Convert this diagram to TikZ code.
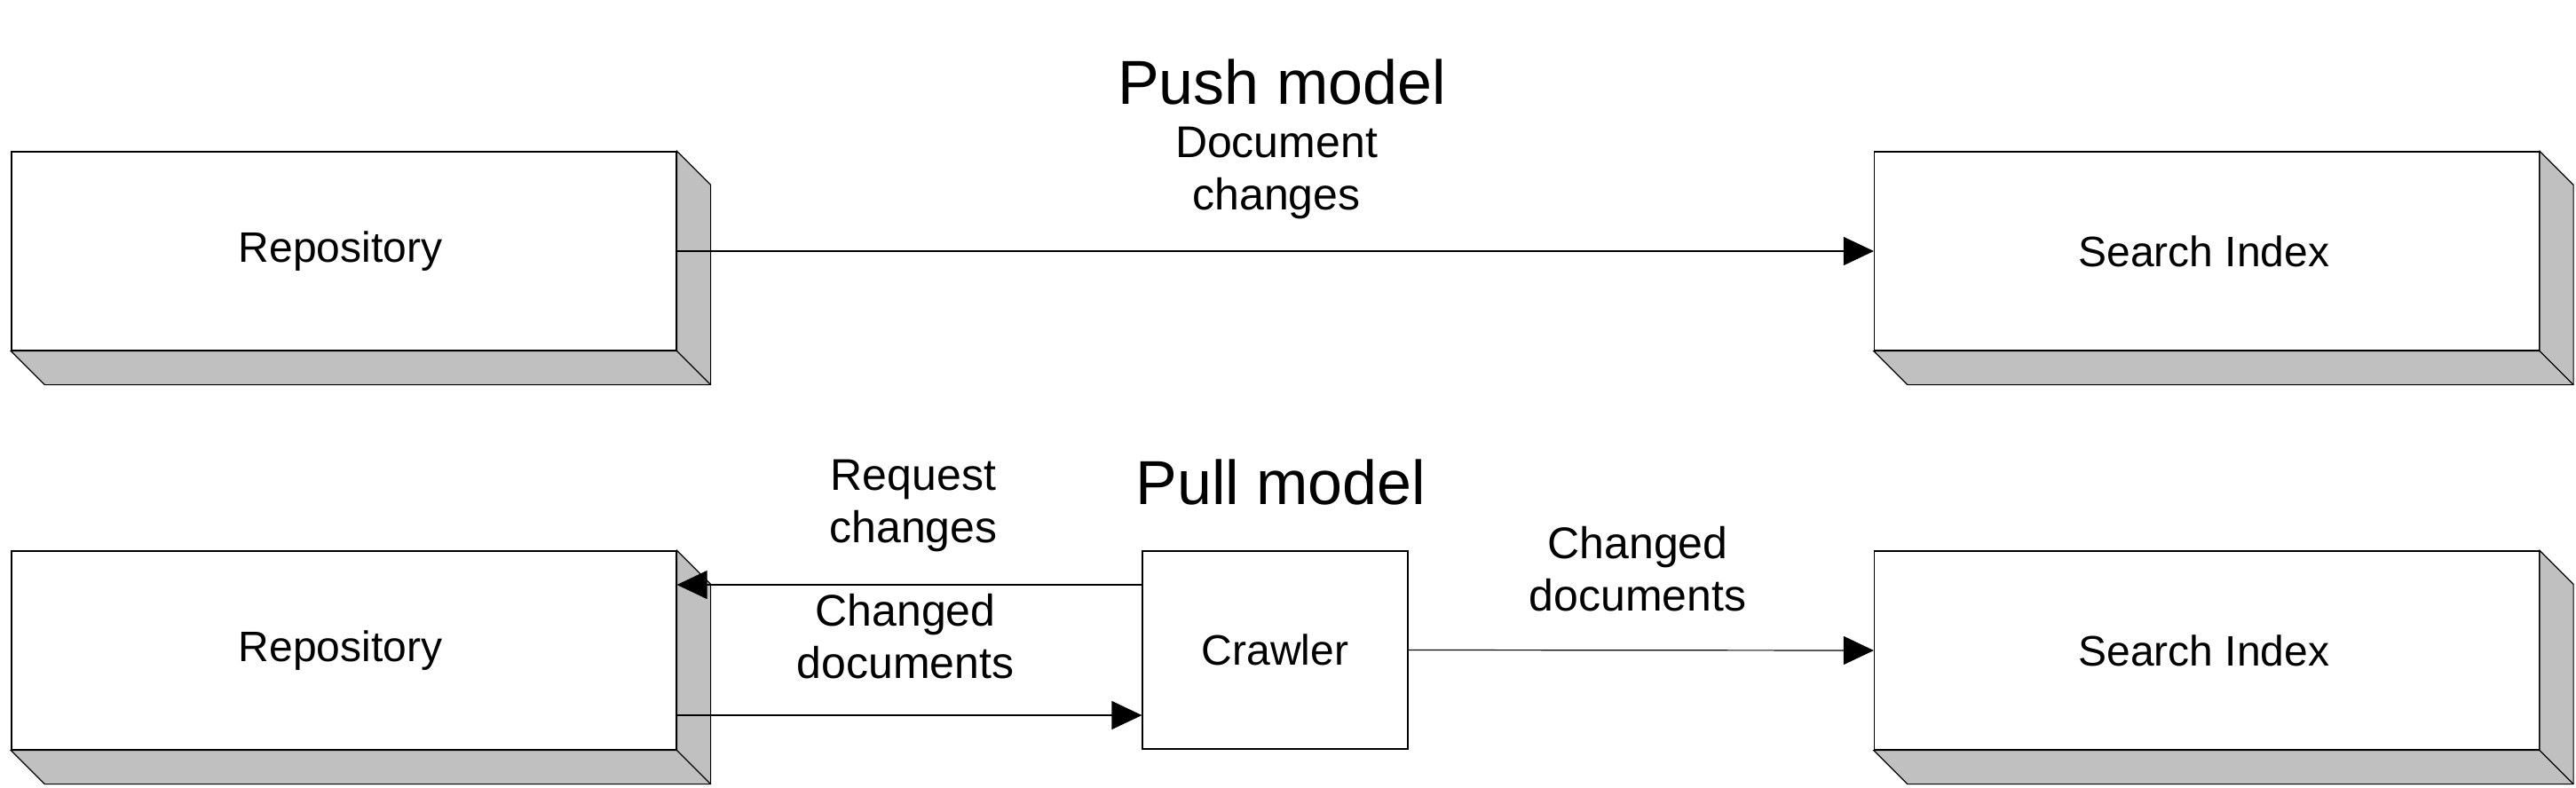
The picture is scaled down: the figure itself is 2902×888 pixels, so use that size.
\documentclass[tikz,border=0pt]{standalone}
\usepackage{fontspec}
\setmainfont{Liberation Sans}
\usetikzlibrary{arrows.meta,calc}
\definecolor{sidegray}{HTML}{C0C0C0}
\tikzset{
  face/.style={draw=black, fill=white, line width=1.2pt, inner sep=0pt, minimum height=224pt, font=\fontsize{48}{55}\selectfont},
  bigbox/.style={face, minimum width=749pt},
  lbl/.style={align=center, inner sep=0pt, font=\fontsize{50}{59}\selectfont},
  title/.style={inner sep=0pt, font=\fontsize{70}{78}\selectfont},
  arr/.style={line width=1.2pt, -{Triangle[length=34pt,width=32pt]}},
  extr/.style={fill=sidegray, draw=black, line width=1.2pt, line join=miter}
}
\newcommand{\extrude}[1]{%
  \path[extr] (#1.north east) -- ($(#1.north east)+(38,38)$) -- ($(#1.south east)+(38,38)$)
    -- ($(#1.south west)+(38,38)$) -- (#1.south west) -- (#1.south east) -- cycle;
  \draw[line width=1.2pt] (#1.south east) -- ($(#1.south east)+(38,38)$);}
\begin{document}
\begin{tikzpicture}[x=1pt,y=-1pt]
\useasboundingbox (0,0) rectangle (2902,888);
% boxes
\node[bigbox] (repoA) at (387.5,283) {\hspace*{-8pt}Repository};
\node[bigbox] (idxA) at (2486,283) {\hspace*{-6pt}Search Index};
\node[bigbox] (repoB) at (387.5,733) {\hspace*{-8pt}Repository};
\node[bigbox] (idxB) at (2486,733) {\hspace*{-6pt}Search Index};
\node[face, minimum width=299pt, minimum height=223pt] (crawler) at (1436.5,732.5) {Crawler};
\extrude{repoA}
\extrude{idxA}
\extrude{repoB}
\extrude{idxB}
% titles
\node[title] (push) at (1444,92) {Push model};
\node[title] (pull) at (1443,543) {Pull model};
% labels
\node[lbl] (docch) at (1438,195) {Document\\changes};
\node[lbl] (req) at (1029,570) {Request\\changes};
\node[lbl] (chd1) at (1020,717) {Changed\\documents};
\node[lbl] (chd2) at (1845,641) {Changed\\documents};
% connectors
\draw[arr] (repoA.east) -- (idxA.west);
\draw[arr] ([yshift=73.5pt]crawler.west) -- ([yshift=74pt]repoB.east);
\draw[arr] ([yshift=-73pt]repoB.east) -- ([yshift=-73.5pt]crawler.west);
\draw[arr] (crawler.east) -- (idxB.west);
\end{tikzpicture}
\end{document}
